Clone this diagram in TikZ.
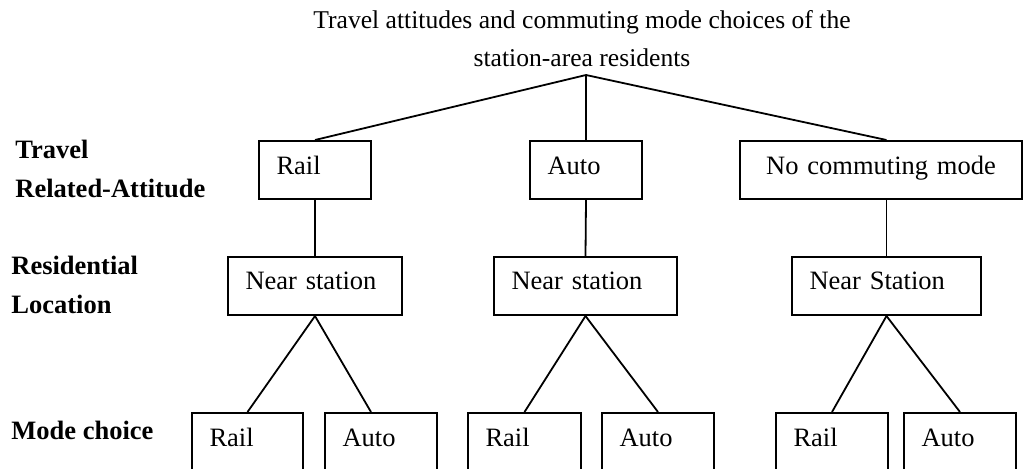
\documentclass[tikz,border=0pt]{standalone}
\usepackage{fontspec}
\setmainfont{Liberation Serif}
\begin{document}
\begin{tikzpicture}[x=0.5pt, y=-0.5pt,
  every node/.style={font=\fontsize{13.25}{19.5}\selectfont},
  box/.style={draw, line width=1pt, anchor=north west, align=left, inner xsep=8.75pt, inner ysep=0pt, text height=16.5pt, text depth=12.5pt, text width=#1},
  near/.style={box=#1, text height=16pt, text depth=13pt},
  leaf/.style={box=#1, text depth=30pt},
  level/.style={anchor=base west, align=left, inner sep=0pt, font=\fontsize{13.25}{19.5}\selectfont\bfseries},
  link/.style={line width=0.9pt}]
\useasboundingbox (0,0) rectangle (1023,468);
\clip (0,0) rectangle (1023,468);
% title and root point
\node[align=center, anchor=base, inner sep=0pt, font=\fontsize{12.8}{19}\selectfont] (title) at (582,66) {Travel attitudes and commuting mode choices of the\\station-area residents};
\coordinate (root) at (586,75);
% level labels
\node[level] (attitude) at (15,197) {Travel\\Related-Attitude};
\node[level] (location) at (11,313) {Residential\\Location};
\node[level] (choice) at (11,439) {Mode choice};
% attitude boxes
\node[box=38.5pt] (rail) at (258,140) {Rail};
\node[box=38.5pt] (auto) at (529,140) {Auto};
\node[box=123.5pt, align=center] (nomode) at (739,140) {No commuting mode};
% location boxes
\node[near=69.5pt] (near1) at (227,256) {Near station};
\node[near=74pt] (near2) at (493,256) {Near station};
\node[near=77pt] (near3) at (791,256) {Near Station};
% mode choice boxes
\node[leaf=38pt] (rail1) at (191,412) {Rail};
\node[leaf=38.5pt] (auto1) at (324,412) {Auto};
\node[leaf=39pt] (rail2) at (467,412) {Rail};
\node[leaf=38.5pt] (auto2) at (601,412) {Auto};
\node[leaf=38.5pt] (rail3) at (775,412) {Rail};
\node[leaf=38.5pt] (auto3) at (903,412) {Auto};
% connectors
\draw[link] (root) -- (rail.north);
\draw[link] (root) -- (auto.north);
\draw[link] (root) -- (nomode.north -| near3.north);
\draw[link] (rail.south) -- (near1.north);
\draw[link] (auto.south) -- (near2.north);
\draw[link] (nomode.south -| near3.north) -- (near3.north);
\draw[link] (near1.south) -- (rail1.north);
\draw[link] (near1.south) -- ([xshift=-5pt]auto1.north);
\draw[link] (near2.south) -- (rail2.north);
\draw[link] (near2.south) -- (auto2.north);
\draw[link] (near3.south) -- (rail3.north);
\draw[link] (near3.south) -- (auto3.north);
\end{tikzpicture}
\end{document}
